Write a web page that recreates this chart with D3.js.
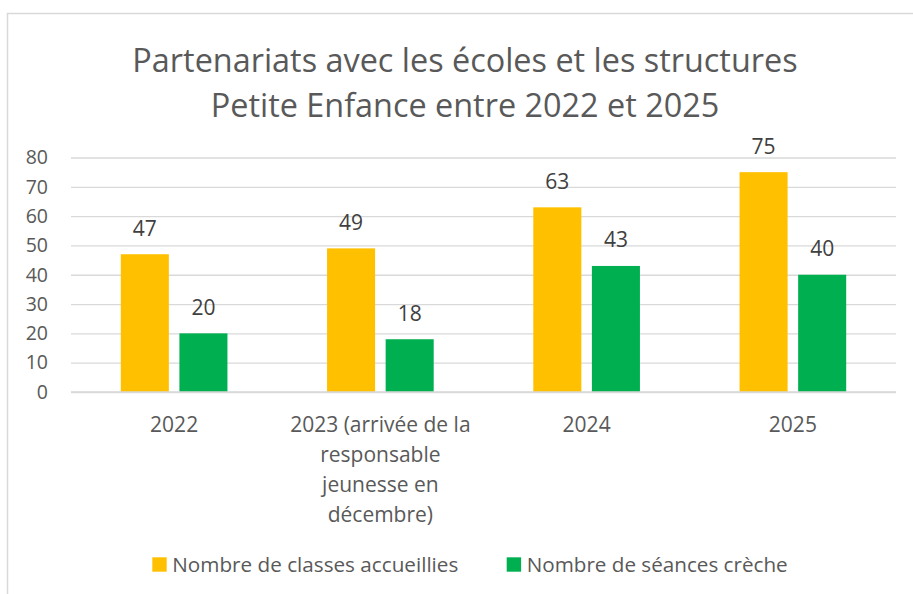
<!DOCTYPE html>
<html>
<head>
<meta charset="utf-8">
<script src="https://cdn.jsdelivr.net/npm/d3@7"></script>
<style>
  body { margin: 0; background: #fff; }
  text { font-family: "Open Sans", sans-serif; fill: #595959; }
</style>
</head>
<body>
<svg id="chart" width="913" height="594"></svg>
<script>
const categories = [
  ['2022'],
  ['2023 (arrivée de la', 'responsable', 'jeunesse en', 'décembre)'],
  ['2024'],
  ['2025']
];
const seriesNames = ['Nombre de classes accueillies', 'Nombre de séances crèche'];
const classes = [47, 49, 63, 75];
const seances = [20, 18, 43, 40];
const yTicks = [0, 10, 20, 30, 40, 50, 60, 70, 80];
const colors = ['#FFC000', '#00B050'];

const svg = d3.select('#chart');
const margin = { top: 157.5, right: 17, bottom: 202, left: 71 };
const W = 913, H = 594;
const width = W - margin.left - margin.right;
const height = H - margin.top - margin.bottom;

// chart area border
svg.append('rect')
  .attr('x', 7.5).attr('y', 13.5)
  .attr('width', 920).attr('height', 600)
  .attr('fill', 'none').attr('stroke', '#d9d9d9').attr('stroke-width', 1.5);

// title
const title = svg.append('text')
  .attr('text-anchor', 'middle')
  .attr('font-size', 32.4);
title.append('tspan').attr('x', 465).attr('y', 72).text('Partenariats avec les écoles et les structures');
title.append('tspan').attr('x', 465).attr('y', 116.5).text('Petite Enfance entre 2022 et 2025');

const g = svg.append('g').attr('transform', 'translate(' + margin.left + ',' + margin.top + ')');

const idx = categories.map((c, i) => i);
const x0 = d3.scaleBand().domain(idx).range([0, width]).padding(0);
const x1 = d3.scaleBand().domain([0, 1]).range([0, x0.bandwidth()])
  .paddingInner(0.18).paddingOuter(0.85);
const y = d3.scaleLinear().domain([0, 80]).range([height, 0]);

// gridlines
g.append('g')
  .call(d3.axisLeft(y).tickValues(yTicks).tickSize(-width).tickFormat(''))
  .call(s => s.select('.domain').remove())
  .call(s => s.selectAll('line').attr('stroke', '#d9d9d9').attr('stroke-width', 1.3));

// y tick labels
g.append('g')
  .call(d3.axisLeft(y).tickValues(yTicks).tickSize(0).tickPadding(23))
  .call(s => s.select('.domain').remove())
  .call(s => s.selectAll('text').attr('font-size', 19.5).style('font-family', '"Open Sans", sans-serif').attr('fill', '#595959'));

const series = [classes, seances];
series.forEach((vals, si) => {
  const grp = g.append('g');
  grp.selectAll('rect')
    .data(vals)
    .enter()
    .append('rect')
    .attr('x', (d, i) => x0(i) + x1(si))
    .attr('y', d => y(d))
    .attr('width', x1.bandwidth())
    .attr('height', d => height - y(d))
    .attr('fill', colors[si]);
  grp.selectAll('text')
    .data(vals)
    .enter()
    .append('text')
    .attr('x', (d, i) => x0(i) + x1(si) + x1.bandwidth() / 2)
    .attr('y', d => y(d) - 18.5)
    .attr('text-anchor', 'middle')
    .attr('font-size', 21)
    .style('fill', '#404040')
    .text(d => d);
});

// axis baseline
g.append('line')
  .attr('x1', 0).attr('x2', width)
  .attr('y1', height).attr('y2', height)
  .attr('stroke', '#d9d9d9').attr('stroke-width', 1.3);

// category labels
categories.forEach((lines, i) => {
  const t = g.append('text')
    .attr('text-anchor', 'middle')
    .attr('font-size', 21);
  lines.forEach((ln, k) => {
    t.append('tspan')
      .attr('x', x0(i) + x0.bandwidth() / 2)
      .attr('y', height + 39.5 + k * 30)
      .text(ln);
  });
});

// legend
const legendX = [152.3, 506.7];
const legendLen = [286, 261];
seriesNames.forEach((name, i) => {
  svg.append('rect')
    .attr('x', legendX[i]).attr('y', 557.3)
    .attr('width', 14.4).attr('height', 14.4)
    .attr('fill', colors[i]);
  svg.append('text')
    .attr('x', legendX[i] + 20).attr('y', 571.7)
    .attr('font-size', 20.5)
    .attr('textLength', legendLen[i])
    .attr('lengthAdjust', 'spacingAndGlyphs')
    .text(name);
});
</script>
</body>
</html>
